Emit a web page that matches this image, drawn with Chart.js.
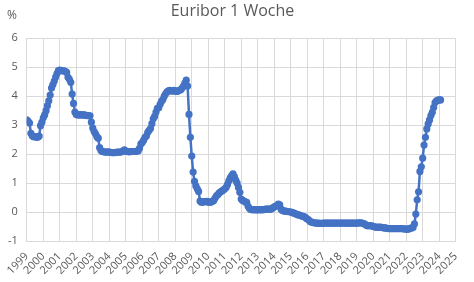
<!DOCTYPE html>
<html lang="de">
<head>
<meta charset="UTF-8">
<title>Euribor 1 Woche</title>
<script src="https://cdn.jsdelivr.net/npm/chart.js"></script>
<style>
  body { margin: 0; background: #fff; }
  #wrap { width: 474px; height: 282px; position: relative; }
</style>
</head>
<body>
<div id="wrap"><canvas id="chart"></canvas></div>
<script>
// monthly values (%), first value = January 1999
const startYear = 1999;
const rates = [
  // 1999
  3.18, 3.13, 3.07, 2.72, 2.63, 2.60, 2.60, 2.58, 2.58, 2.62, 2.98, 3.10,
  // 2000
  3.25, 3.35, 3.50, 3.67, 3.84, 4.04, 4.28, 4.40, 4.52, 4.66, 4.78, 4.88,
  // 2001
  4.90, 4.88, 4.88, 4.87, 4.86, 4.82, 4.65, 4.58, 4.48, 4.07, 3.75, 3.45,
  // 2002
  3.37, 3.35, 3.35, 3.36, 3.35, 3.35, 3.35, 3.34, 3.33, 3.33, 3.32, 3.10,
  // 2003
  2.90, 2.78, 2.70, 2.60, 2.55, 2.22, 2.12, 2.09, 2.08, 2.07, 2.07, 2.08,
  // 2004
  2.07, 2.06, 2.05, 2.05, 2.05, 2.06, 2.07, 2.07, 2.07, 2.08, 2.10, 2.15,
  // 2005
  2.10, 2.09, 2.08, 2.08, 2.09, 2.09, 2.09, 2.09, 2.10, 2.11, 2.20, 2.35,
  // 2006
  2.40, 2.48, 2.58, 2.62, 2.75, 2.82, 2.88, 3.05, 3.22, 3.30, 3.45, 3.58,
  // 2007
  3.60, 3.72, 3.82, 3.88, 4.00, 4.08, 4.15, 4.18, 4.20, 4.18, 4.18, 4.20,
  // 2008
  4.18, 4.16, 4.18, 4.20, 4.22, 4.28, 4.35, 4.45, 4.55, 4.35, 3.37, 2.58,
  // 2009
  1.93, 1.38, 1.06, 0.90, 0.80, 0.71, 0.38, 0.34, 0.34, 0.36, 0.36, 0.37,
  // 2010
  0.34, 0.34, 0.35, 0.36, 0.40, 0.48, 0.56, 0.60, 0.66, 0.70, 0.73, 0.76,
  // 2011
  0.80, 0.85, 0.95, 1.08, 1.18, 1.25, 1.32, 1.22, 1.10, 1.00, 0.85, 0.68,
  // 2012
  0.45, 0.40, 0.38, 0.35, 0.33, 0.20, 0.12, 0.09, 0.08, 0.08, 0.08, 0.07,
  // 2013
  0.08, 0.08, 0.08, 0.08, 0.08, 0.09, 0.10, 0.10, 0.10, 0.10, 0.11, 0.14,
  // 2014
  0.18, 0.20, 0.23, 0.27, 0.25, 0.10, 0.05, 0.04, 0.03, 0.02, 0.01, 0.01,
  // 2015
  0.00, -0.01, -0.03, -0.05, -0.07, -0.09, -0.10, -0.12, -0.14, -0.15, -0.17, -0.20,
  // 2016
  -0.24, -0.27, -0.32, -0.35, -0.36, -0.37, -0.38, -0.38, -0.38, -0.39, -0.39, -0.39,
  // 2017
  -0.38, -0.38, -0.38, -0.38, -0.38, -0.38, -0.38, -0.38, -0.38, -0.38, -0.38, -0.38,
  // 2018
  -0.38, -0.38, -0.38, -0.38, -0.38, -0.38, -0.38, -0.38, -0.38, -0.38, -0.38, -0.38,
  // 2019
  -0.38, -0.38, -0.37, -0.37, -0.38, -0.40, -0.42, -0.46, -0.48, -0.47, -0.47, -0.48,
  // 2020
  -0.50, -0.51, -0.52, -0.53, -0.52, -0.52, -0.53, -0.54, -0.55, -0.55, -0.56, -0.57,
  // 2021
  -0.57, -0.57, -0.57, -0.57, -0.57, -0.57, -0.57, -0.57, -0.57, -0.57, -0.58, -0.59,
  // 2022
  -0.58, -0.60, -0.58, -0.56, -0.55, -0.53, -0.41, -0.07, 0.42, 0.70, 1.40, 1.56,
  // 2023
  1.86, 2.31, 2.58, 2.87, 3.04, 3.18, 3.33, 3.44, 3.61, 3.78, 3.84, 3.86,
  // 2024
  3.87, 3.87
];

const yearLabels = [1999, 2000, 2001, 2002, 2003, 2004, 2005, 2006, 2007, 2008, 2009,
  2010, 2011, 2012, 2013, 2014, 2015, 2016, 2017, 2018, 2019, 2020, 2021, 2022,
  2023, 2024, 2025];
const yTicks = [-1, 0, 1, 2, 3, 4, 5, 6];

const textColor = '#595959';
const gridColor = '#d9d9d9';
const lineColor = '#4472c4';

// unit label "%" above the y axis
const unitLabel = {
  id: 'unitLabel',
  afterDraw(chart) {
    const ctx = chart.ctx;
    ctx.save();
    ctx.fillStyle = textColor;
    ctx.font = '12px "Open Sans"';
    ctx.textAlign = 'left';
    ctx.textBaseline = 'middle';
    ctx.fillText('%', 7, 16);
    ctx.restore();
  }
};

const points = rates.map((v, i) => ({ x: startYear + i / 12, y: v }));

new Chart(document.getElementById('chart'), {
  type: 'line',
  data: {
    datasets: [{
      label: 'Euribor 1 Woche',
      data: points,
      borderColor: lineColor,
      backgroundColor: lineColor,
      borderWidth: 2.5,
      pointRadius: 3.6,
      pointBorderWidth: 0,
      pointBackgroundColor: lineColor,
      tension: 0
    }]
  },
  options: {
    responsive: true,
    maintainAspectRatio: false,
    animation: false,
    devicePixelRatio: 1,
    layout: { padding: { left: 0, right: 9, top: 0, bottom: 0 } },
    plugins: {
      legend: { display: false },
      tooltip: { enabled: false },
      title: {
        display: true,
        text: 'Euribor 1 Woche',
        color: textColor,
        font: { family: '"Open Sans"', size: 16, weight: 'normal' },
        padding: { top: 2, bottom: 17 }
      }
    },
    scales: {
      x: {
        type: 'linear',
        min: yearLabels[0],
        max: yearLabels[yearLabels.length - 1],
        afterBuildTicks(scale) {
          scale.ticks = yearLabels.map(v => ({ value: v }));
        },
        afterFit(scale) { scale.height = 41; },
        ticks: {
          autoSkip: false,
          minRotation: 45,
          maxRotation: 45,
          padding: 9,
          color: textColor,
          font: { family: '"Open Sans"', size: 11 },
          callback: v => String(v)
        },
        grid: { color: gridColor, drawTicks: false },
        border: { color: gridColor }
      },
      y: {
        min: yTicks[0],
        max: yTicks[yTicks.length - 1],
        afterBuildTicks(scale) {
          scale.ticks = yTicks.map(v => ({ value: v }));
        },
        afterFit(scale) { scale.width = 23; },
        ticks: {
          padding: 9,
          color: textColor,
          font: { family: '"Open Sans"', size: 11 }
        },
        grid: { color: gridColor, drawTicks: false },
        border: { color: gridColor }
      }
    }
  },
  plugins: [unitLabel]
});
</script>
</body>
</html>
